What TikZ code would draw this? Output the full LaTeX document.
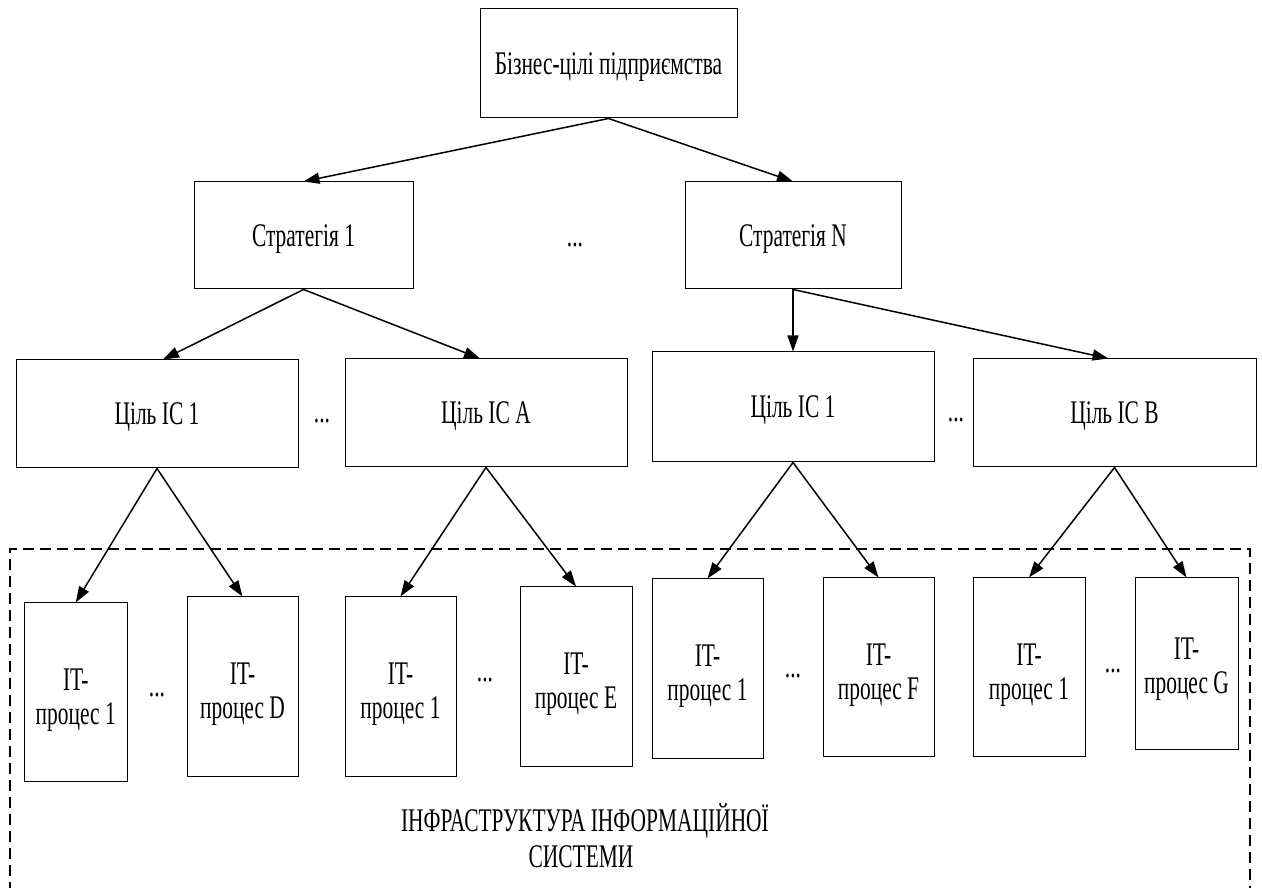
\documentclass[tikz,border=0pt]{standalone}
\usepackage{fontspec}
\setmainfont{Liberation Serif}[FakeStretch=0.65]
\usetikzlibrary{arrows.meta}
\begin{document}
\begin{tikzpicture}[x=1pt,y=1pt,
  txt/.style={font=\fontsize{33}{34}\selectfont},
  box/.style={draw, line width=1pt, inner sep=0pt, txt, text height=22pt, text depth=0pt},
  itbox/.style={draw, line width=1pt, inner sep=0pt},
  itlbl/.style={txt, align=center, inner sep=0pt, anchor=north},
  dots/.style={txt, anchor=base, inner sep=0pt},
  link/.style={line width=1.5pt, -{Triangle[length=16pt,width=11pt]}},
  frame/.style={line width=1.1pt, dash pattern=on 11pt off 6pt},
]
\useasboundingbox (0,0) rectangle (1262,888);

% infrastructure frame (open at the bottom edge)
\draw[frame] (10,-5) -- (10,339) -- (1250,339) -- (1250,-5);

% top level
\node[box, minimum width=257pt, minimum height=109pt] (top) at (608.5,824.5) {Бізнес-цілі підприємства};

% strategies
\node[box, minimum width=219pt, minimum height=107pt] (s1) at (303.5,652.5) {Стратегія 1};
\node[box, minimum width=216pt, minimum height=107pt] (sn) at (793,652.5) {Стратегія N};
\node[dots] (sdots) at (575,641) {...};

% information system goals
\node[box, minimum width=282pt, minimum height=108pt] (l1) at (157,474) {Ціль ІС 1};
\node[box, minimum width=282pt, minimum height=108pt] (l2) at (486,475) {Ціль ІС А};
\node[box, minimum width=282pt, minimum height=110pt] (r1) at (793,481) {Ціль ІС 1};
\node[box, minimum width=283pt, minimum height=108pt] (r2) at (1114.5,475) {Ціль ІС В};
\node[dots] (ldots) at (322,465) {...};
\node[dots] (rdots) at (956,466) {...};

% IT processes
\node[itbox, minimum width=102.5pt, minimum height=179pt] (p1) at (75.75,195.5) {};
\node[itbox, minimum width=111pt, minimum height=180pt] (pd) at (242.5,201) {};
\node[itbox, minimum width=111pt, minimum height=180pt] (pe1) at (400.5,201) {};
\node[itbox, minimum width=112pt, minimum height=180pt] (pe) at (576,211) {};
\node[itbox, minimum width=111pt, minimum height=180pt] (pf1) at (707.5,219) {};
\node[itbox, minimum width=111pt, minimum height=179pt] (pf) at (878.5,220.5) {};
\node[itbox, minimum width=112pt, minimum height=179pt] (pg1) at (1029,220.5) {};
\node[itbox, minimum width=103pt, minimum height=172pt] (pg) at (1186.5,224) {};

\node[itlbl] (p1t)  at ([yshift=24pt]p1.center)  {IT-\\процес 1};
\node[itlbl] (pdt)  at ([yshift=24pt]pd.center)  {IT-\\процес D};
\node[itlbl] (pe1t) at ([yshift=24pt]pe1.center) {IT-\\процес 1};
\node[itlbl] (pet)  at ([yshift=24pt]pe.center)  {IT-\\процес E};
\node[itlbl] (pf1t) at ([yshift=24pt]pf1.center) {IT-\\процес 1};
\node[itlbl] (pft)  at ([yshift=24pt]pf.center)  {IT-\\процес F};
\node[itlbl] (pg1t) at ([yshift=24pt]pg1.center) {IT-\\процес 1};
\node[itlbl] (pgt)  at ([yshift=26pt]pg.center)  {IT-\\процес G};

\node[dots] (pdots1) at (157,191) {...};
\node[dots] (pdots2) at (485,206) {...};
\node[dots] (pdots3) at (793,210) {...};
\node[dots] (pdots4) at (1113,215) {...};

% frame caption
\node[dots] (cap1) at (585,56) {ІНФРАСТРУКТУРА ІНФОРМАЦІЙНОЇ};
\node[dots] (cap2) at (581,20) {СИСТЕМИ};

% connectors
\draw[link] (top.south) -- (s1.north);
\draw[link] (top.south) -- (sn.north);
\draw[link] (s1.south) -- ([xshift=6pt]l1.north);
\draw[link] (s1.south) -- ([xshift=-6pt]l2.north);
\draw[link] (sn.south) -- (r1.north);
\draw[link] (sn.south) -- ([xshift=-6pt]r2.north);
\draw[link] (l1.south) -- (p1.north);
\draw[link] (l1.south) -- (pd.north);
\draw[link] (l2.south) -- (pe1.north);
\draw[link] (l2.south) -- (pe.north);
\draw[link] (r1.south) -- (pf1.north);
\draw[link] (r1.south) -- (pf.north);
\draw[link] (r2.south) -- (pg1.north);
\draw[link] (r2.south) -- (pg.north);
\end{tikzpicture}
\end{document}
